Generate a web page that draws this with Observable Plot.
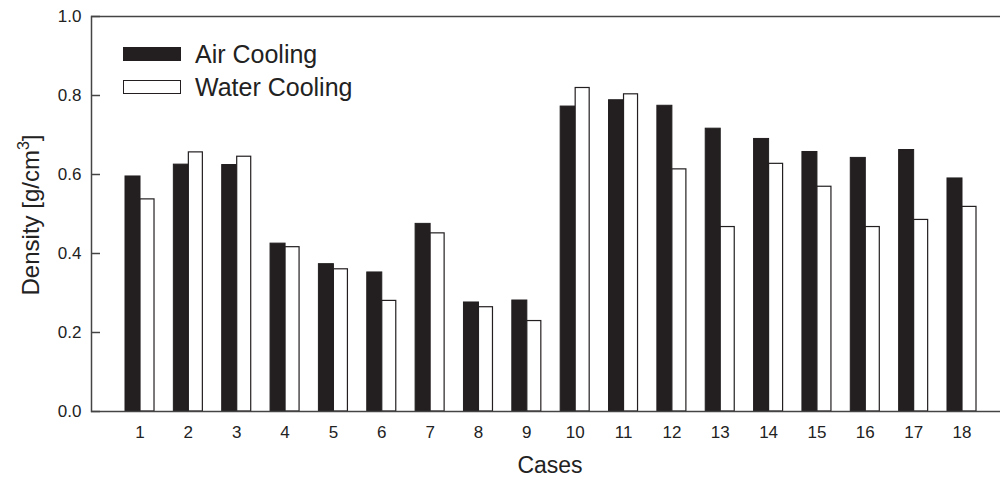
<!DOCTYPE html>
<html>
<head>
<meta charset="utf-8">
<script src="https://cdn.jsdelivr.net/npm/d3@7"></script>
<script src="https://cdn.jsdelivr.net/npm/@observablehq/plot@0.6"></script>
<style>
  html, body { margin: 0; padding: 0; background: #fff; overflow: hidden; }
  #wrap { position: relative; width: 1000px; height: 480px; overflow: hidden; font-family: "Liberation Sans", Arial, sans-serif; color: #222; }
  #wrap svg { position: absolute; left: 0; top: 0; }
  .ov { position: absolute; white-space: nowrap; }
  .sw { position: absolute; width: 58px; height: 14px; box-sizing: border-box; }
</style>
</head>
<body>
<div id="wrap"></div>
<script>
const cases = [1,2,3,4,5,6,7,8,9,10,11,12,13,14,15,16,17,18];
const airCooling   = [0.595,0.625,0.624,0.425,0.373,0.352,0.475,0.276,0.281,0.772,0.788,0.774,0.716,0.690,0.657,0.642,0.662,0.590];
const waterCooling = [0.537,0.656,0.645,0.416,0.360,0.280,0.451,0.264,0.229,0.819,0.803,0.613,0.467,0.627,0.569,0.467,0.485,0.518];
const yTicks = [0, 0.2, 0.4, 0.6, 0.8, 1.0];
const seriesNames = ["Air Cooling", "Water Cooling"];

const air = cases.map((c, i) => ({case: c, value: airCooling[i]}));
const water = cases.map((c, i) => ({case: c, value: waterCooling[i]}));

const ink = "#231f20";
const axisCol = "#444";

const chart = Plot.plot({
  width: 1000,
  height: 480,
  marginLeft: 91,
  marginRight: 0,
  marginTop: 16,
  marginBottom: 69,
  style: {fontFamily: "'Liberation Sans', Arial, sans-serif", fontSize: "17px", color: "#222", background: "transparent", overflow: "hidden"},
  x: {type: "band", domain: cases, range: [125, 976], paddingInner: 0.4, paddingOuter: 0, round: false, label: null},
  y: {domain: [0, 1], label: null},
  marks: [
    Plot.barY(air, {x: "case", y: "value", fill: ink, stroke: ink, strokeWidth: 1, insetRight: 14}),
    Plot.barY(water, {x: "case", y: "value", fill: "white", stroke: ink, strokeWidth: 1.2, insetLeft: 15}),
    Plot.frame({stroke: axisCol, strokeWidth: 1.5, insetRight: -6}),
    Plot.axisY({ticks: yTicks, tickFormat: d3.format(".1f"), tickSize: 0, tickPadding: 10, label: null, fontSize: 17}),
    Plot.axisY({ticks: yTicks, tickFormat: () => "", tickSize: 9, dx: 9, stroke: axisCol, strokeWidth: 1.5, label: null}),
    Plot.axisX({tickSize: 0, tickPadding: 14, label: null, fontSize: 17})
  ]
});

const wrap = document.getElementById("wrap");
wrap.appendChild(chart);

// axis titles
const xt = document.createElement("div");
xt.className = "ov";
xt.style.cssText = "left:550px; top:466px; font-size:23px; line-height:1.1; transform: translate(-50%,-50%);";
xt.textContent = "Cases";
wrap.appendChild(xt);

const yt = document.createElement("div");
yt.className = "ov";
yt.style.cssText = "left:31px; top:215px; font-size:24px; line-height:1; transform: translate(-50%,-50%) rotate(-90deg);";
yt.innerHTML = "Density [g/cm<sup style='font-size:16px;vertical-align:10px;line-height:0'>3</sup>]";
wrap.appendChild(yt);

// legend
const legendStyles = [
  {top: 47, bg: ink, border: "1px solid " + ink},
  {top: 80, bg: "#fff", border: "1.2px solid " + ink}
];
seriesNames.forEach((name, i) => {
  const s = legendStyles[i];
  const sw = document.createElement("div");
  sw.className = "sw";
  sw.style.left = "123px";
  sw.style.top = s.top + "px";
  sw.style.background = s.bg;
  sw.style.border = s.border;
  wrap.appendChild(sw);
  const t = document.createElement("div");
  t.className = "ov";
  t.style.cssText = `left:195px; top:${s.top + 7}px; transform: translateY(-50%); font-size:25px; line-height:1;`;
  t.textContent = name;
  wrap.appendChild(t);
});
</script>
</body>
</html>
